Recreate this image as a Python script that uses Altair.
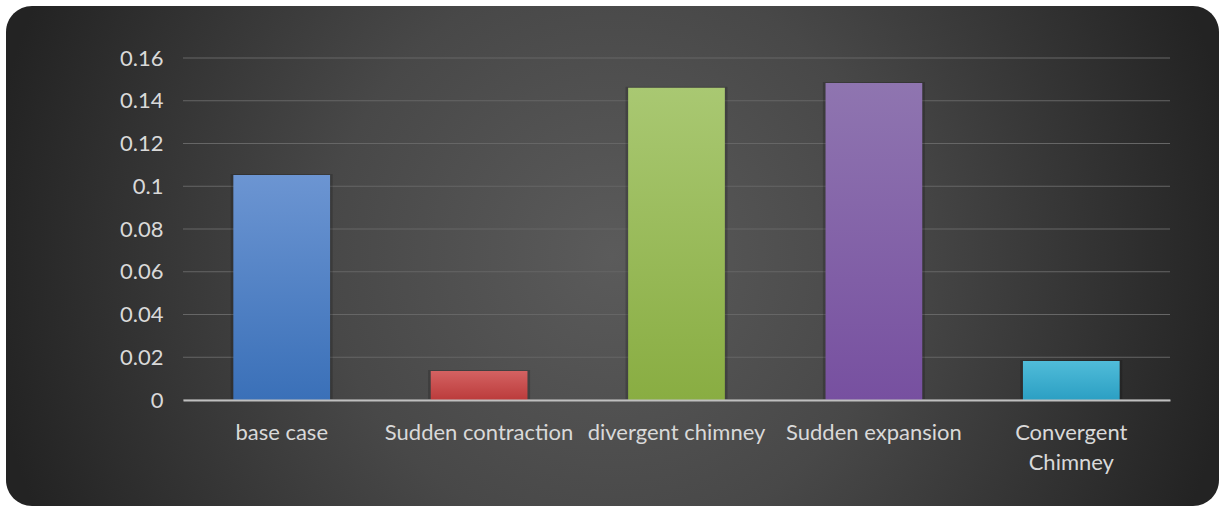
import altair as alt
import pandas as pd

# Bar categories and values
categories = ["base case", "Sudden contraction", "divergent chimney",
              "Sudden expansion", "Convergent Chimney"]
values = [0.1053, 0.0136, 0.1461, 0.1483, 0.0182]

# Gradient colours per bar (top, bottom)
bar_top = ["#6c95d2", "#d46262", "#a9c872", "#8f75b0", "#50bcd9"]
bar_bottom = ["#3a70b8", "#bb3b3b", "#89ad42", "#7750a0", "#2b9fc3"]

# Value axis ticks
y_ticks = [0, 0.02, 0.04, 0.06, 0.08, 0.1, 0.12, 0.14, 0.16]

W, H = 987, 342
PAD_L, PAD_T, PAD_R, PAD_B = 183, 58, 51, 109

df = pd.DataFrame({"case": categories, "value": values})
ticks_df = pd.DataFrame({"t": y_ticks})

FONT = "Lato"
LABEL_COLOR = "#d9d9d9"

x_scale = alt.Scale(domain=categories, paddingInner=0.51, paddingOuter=0.255)
y_scale = alt.Scale(domain=[0, 0.16], nice=False)

x_axis = alt.Axis(
    labelAngle=0, labelFont=FONT, labelFontSize=22, labelColor=LABEL_COLOR,
    labelPadding=22, labelLimit=0, ticks=False, domainColor="#bfbfbf", domainWidth=2,
    grid=False, labelLineHeight=30, zindex=1,
    labelExpr="datum.label == 'Convergent Chimney' ? ['Convergent', 'Chimney'] : datum.label",
)
y_axis = alt.Axis(
    values=y_ticks, labelFont=FONT, labelFontSize=22, labelColor=LABEL_COLOR,
    labelPadding=20, ticks=False, domain=False, grid=False, zindex=1,
    labelExpr="datum.value == 0 ? '0' : format(datum.value, '.2~f')",
)

X = alt.X("case:N", scale=x_scale, sort=categories, title=None, axis=x_axis)
Y = alt.Y("value:Q", scale=y_scale, title=None, axis=y_axis)

# Dark rounded backdrop with a soft radial glow
backdrop = alt.Chart(pd.DataFrame({"k": [0]})).mark_rect(
    cornerRadius=26,
    color=alt.RadialGradient(
        gradient="radial",
        stops=[
            alt.GradientStop(color="#5b5b5b", offset=0),
            alt.GradientStop(color="#484848", offset=0.45),
            alt.GradientStop(color="#232323", offset=1),
        ],
        x1=0.5, y1=0.5, r1=0, x2=0.5, y2=0.5, r2=0.52,
    ),
).encode(
    x=alt.value(6 - PAD_L),
    x2=alt.value(1219 - PAD_L),
    y=alt.value(6 - PAD_T),
    y2=alt.value(506 - PAD_T),
)

# Horizontal gridlines
grid = alt.Chart(ticks_df).mark_rule(color="#666666", strokeWidth=1).encode(
    y=alt.Y("t:Q", scale=y_scale, title=None, axis=y_axis),
    x=alt.value(0),
    x2=alt.value(W),
)

# Soft shadow behind each bar
shadow = alt.Chart(df).mark_bar(
    color="#000000", opacity=0.18, size=102, yOffset=-1
).encode(x=X, y=Y)

bars = []
for cat, top, bot in zip(categories, bar_top, bar_bottom):
    bars.append(
        alt.Chart(df).transform_filter(alt.datum.case == cat).mark_bar(
            color=alt.LinearGradient(
                gradient="linear",
                stops=[alt.GradientStop(color=top, offset=0),
                       alt.GradientStop(color=bot, offset=1)],
                x1=0, x2=0, y1=0, y2=1,
            )
        ).encode(x=X, y=Y)
    )

chart = alt.layer(backdrop, grid, shadow, *bars).properties(
    width=W, height=H,
    autosize=alt.AutoSizeParams(type="none"),
    padding={"left": PAD_L, "top": PAD_T, "right": PAD_R, "bottom": PAD_B},
    background="#ffffff",
).configure_view(stroke=None)

chart.save("out.html", embed_options={"renderer": "svg", "actions": False})
